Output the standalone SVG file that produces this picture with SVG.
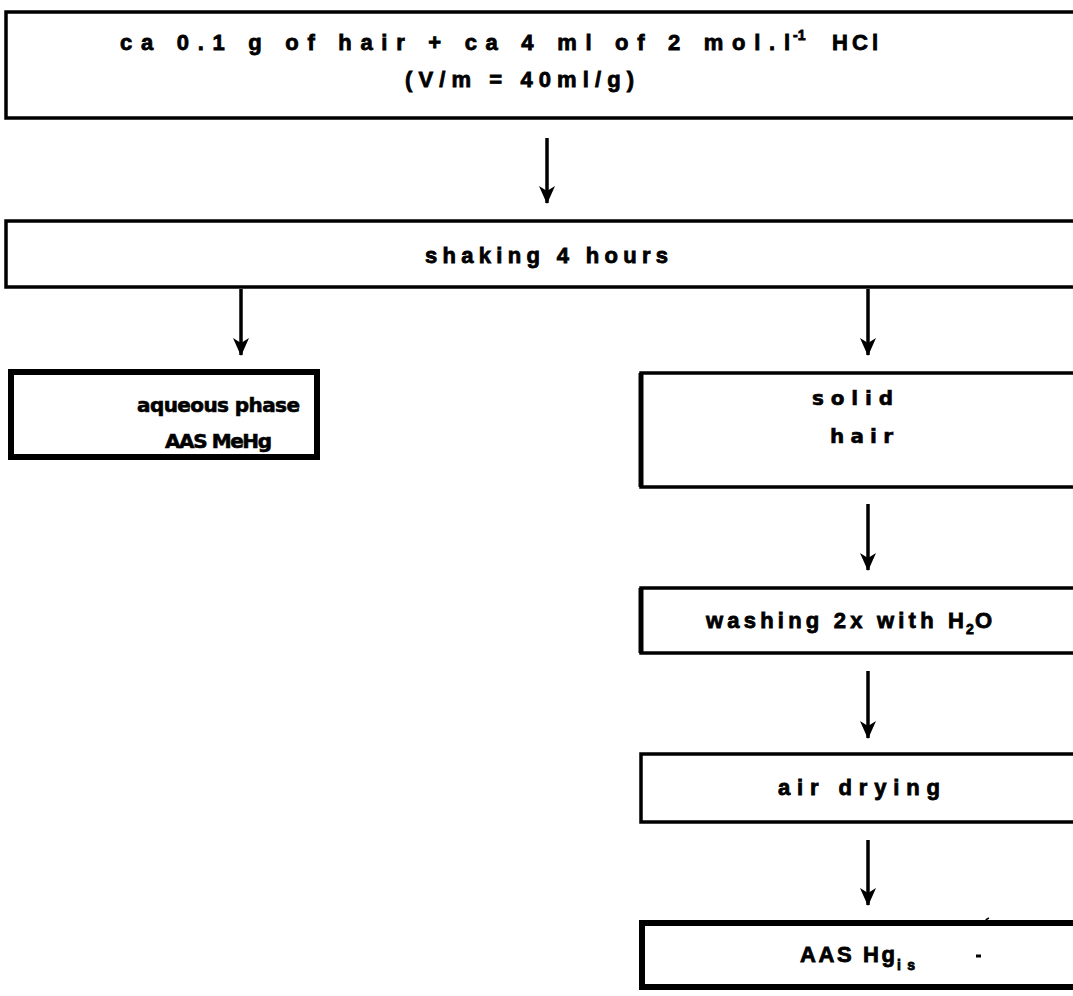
<svg xmlns="http://www.w3.org/2000/svg" width="1073" height="996" viewBox="0 0 1073 996">
<style>
.box{fill:#fff;stroke:#000;stroke-width:3.5}
.thick{fill:#fff;stroke:#000;stroke-width:6}
.t{font-family:"Liberation Sans","DejaVu Sans",sans-serif;font-weight:bold;font-size:22px;fill:#000;stroke:#000;stroke-width:0.8}
.r{font-family:"DejaVu Sans","Liberation Sans",sans-serif;font-weight:bold;font-size:20px;fill:#000;stroke:#000;stroke-width:0.6}
.s{font-size:14px}
.c{stroke:#000;stroke-width:3.5;fill:none}
</style>
<defs>
<marker id="ah" markerWidth="18" markerHeight="16" refX="17" refY="8" orient="auto" markerUnits="userSpaceOnUse" viewBox="0 0 18 16">
<path d="M0,0 L5,8 L0,16 L18,8 Z" fill="#000"/>
</marker>
</defs>
<rect width="1073" height="996" fill="#fff"/>
<g id="top">
<rect class="box" x="6" y="12" width="1080" height="106"/>
<text class="t" x="120" y="50" textLength="670" lengthAdjust="spacing">ca 0.1 g of hair + ca 4 ml of 2 mol.l</text>
<text class="t s" x="793" y="40">-1</text>
<text class="t" x="832" y="50" textLength="46" lengthAdjust="spacing">HCl</text>
<text class="t" x="405" y="87" textLength="229" lengthAdjust="spacing">(V/m = 40ml/g)</text>
</g>
<g id="shaking">
<rect class="box" x="6" y="221" width="1080" height="66"/>
<text class="t" x="425" y="263" textLength="243" lengthAdjust="spacing">shaking 4 hours</text>
</g>
<g id="aqueous">
<rect class="thick" x="11" y="372" width="306" height="85"/>
<text class="r" x="137" y="412" textLength="163" lengthAdjust="spacing">aqueous phase</text>
<text class="r" x="165" y="448" textLength="107" lengthAdjust="spacing">AAS MeHg</text>
</g>
<g id="solid">
<rect class="box" x="641" y="373" width="450" height="114"/>
<line x1="641" y1="373" x2="641" y2="487" stroke="#000" stroke-width="5"/>
<text class="r" x="812" y="405" textLength="81" lengthAdjust="spacing">solid</text>
<text class="r" x="830" y="443" textLength="63" lengthAdjust="spacing">hair</text>
</g>
<g id="washing">
<rect class="box" x="641" y="588" width="450" height="65"/>
<line x1="641" y1="588" x2="641" y2="653" stroke="#000" stroke-width="5"/>
<text class="t" x="706" y="628" textLength="258" lengthAdjust="spacing">washing 2x with H</text>
<text class="t s" x="966" y="634">2</text>
<text class="t" x="975" y="628">O</text>
</g>
<g id="drying">
<rect class="box" x="641" y="754" width="450" height="68"/>
<text class="t" x="778" y="795" textLength="162" lengthAdjust="spacing">air drying</text>
</g>
<g id="aas">
<rect class="thick" x="642" y="923" width="450" height="64"/>
<text class="t" x="800" y="962" textLength="95" lengthAdjust="spacing">AAS Hg</text>
<text class="t s" x="897" y="970" textLength="18" lengthAdjust="spacing">is</text>
<line x1="976" y1="956" x2="981" y2="956" stroke="#000" stroke-width="3"/>
<path d="M985,925 Q984,920 989,918" stroke="#000" stroke-width="1.5" fill="none"/>
</g>
<g id="connectors">
<line class="c" x1="547" y1="138" x2="547" y2="203" marker-end="url(#ah)"/>
<line class="c" x1="241" y1="289" x2="241" y2="355" marker-end="url(#ah)"/>
<line class="c" x1="868" y1="289" x2="868" y2="355" marker-end="url(#ah)"/>
<line class="c" x1="868" y1="504" x2="868" y2="570" marker-end="url(#ah)"/>
<line class="c" x1="868" y1="671" x2="868" y2="738" marker-end="url(#ah)"/>
<line class="c" x1="868" y1="840" x2="868" y2="905" marker-end="url(#ah)"/>
</g>
</svg>
